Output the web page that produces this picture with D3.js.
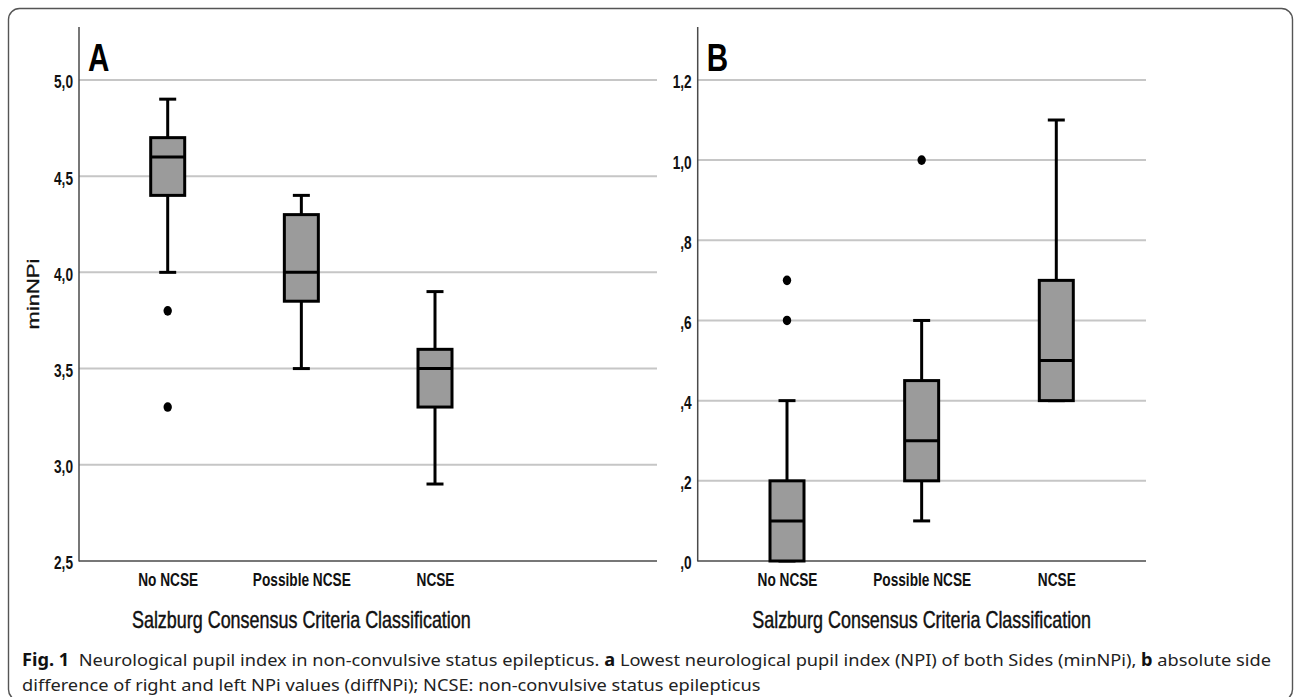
<!DOCTYPE html>
<html><head><meta charset="utf-8">
<script src="https://cdn.jsdelivr.net/npm/d3@7"></script>
<style>body{margin:0;background:#fff} svg{display:block}</style>
</head><body><svg id="c" width="1295" height="697"></svg>
<script>
// ---------- data ----------
const categories = ["No NCSE", "Possible NCSE", "NCSE"];

// Panel A: minNPi
const minNPiWhiskerLow  = [4.0, 3.5, 2.9];
const minNPiQ1          = [4.4, 3.85, 3.3];
const minNPiMedian      = [4.6, 4.0, 3.5];
const minNPiQ3          = [4.7, 4.3, 3.6];
const minNPiWhiskerHigh = [4.9, 4.4, 3.9];
const minNPiOutliers    = [[3.8, 3.3], [], []];
const minNPiTicks       = [2.5, 3.0, 3.5, 4.0, 4.5, 5.0];
const minNPiTickLabels  = ["2,5", "3,0", "3,5", "4,0", "4,5", "5,0"];

// Panel B: diffNPi
const diffNPiWhiskerLow  = [0.0, 0.1, 0.4];
const diffNPiQ1          = [0.0, 0.2, 0.4];
const diffNPiMedian      = [0.1, 0.3, 0.5];
const diffNPiQ3          = [0.2, 0.45, 0.7];
const diffNPiWhiskerHigh = [0.4, 0.6, 1.1];
const diffNPiOutliers    = [[0.7, 0.6], [1.0], []];
const diffNPiTicks       = [0.0, 0.2, 0.4, 0.6, 0.8, 1.0, 1.2];
const diffNPiTickLabels  = [",0", ",2", ",4", ",6", ",8", "1,0", "1,2"];

const xTitle = "Salzburg Consensus Criteria Classification";
const captionLine1 = [
  {t: "Fig. 1", b: true}, {t: "  Neurological pupil index in non-convulsive status epilepticus. ", b: false},
  {t: "a", b: true}, {t: " Lowest neurological pupil index (NPI) of both Sides (minNPi), ", b: false},
  {t: "b", b: true}, {t: " absolute side", b: false}
];
const captionLine2 = "difference of right and left NPi values (diffNPi); NCSE: non-convulsive status epilepticus";

// ---------- drawing ----------
const svg = d3.select("#c");
const SX = 0.76;           // horizontal compression of the figure text
const FONT = "'Liberation Sans', Arial, sans-serif";

// outer rounded frame
svg.append("rect").attr("x", 8.5).attr("y", 8.5).attr("width", 1284).attr("height", 692)
  .attr("rx", 11).attr("fill", "#fff").attr("stroke", "#555").attr("stroke-width", 1.4);

function stext(g, x, y, str, o) {
  return g.append("text")
    .attr("transform", `translate(${x},${y}) scale(${o.sx ?? SX},1)`)
    .attr("text-anchor", o.anchor || "middle")
    .attr("font-family", FONT).attr("font-size", o.size).attr("font-weight", o.weight || "normal")
    .attr("fill", o.fill || "#111").text(str);
}

function panel(cfg) {
  const g = svg.append("g");
  const y = d3.scaleLinear().domain(cfg.yDomain).range([561, 27]);
  const x = d3.scalePoint().domain(categories).range(cfg.catRange);
  const x0 = cfg.axisX, x1 = cfg.gridEnd;

  // white background (panel B covers panel A)
  if (cfg.bg) g.append("rect").attr("x", cfg.bg[0]).attr("y", 14).attr("width", cfg.bg[1] - cfg.bg[0]).attr("height", 590).attr("fill", "#fff");

  // gridlines
  g.append("g").selectAll("line").data(cfg.ticks.slice(1)).join("line")
    .attr("x1", x0).attr("x2", x1).attr("y1", d => y(d)).attr("y2", d => y(d))
    .attr("stroke", "#c6c6c6").attr("stroke-width", 2);

  // y axis labels
  const yAxis = d3.axisLeft(y).tickValues(cfg.ticks).tickSize(0).tickPadding(0)
    .tickFormat((d, i) => cfg.tickLabels[i]);
  const ya = g.append("g").attr("transform", `translate(${x0},0)`).call(yAxis);
  ya.select(".domain").remove();
  ya.selectAll("text").attr("x", null).attr("dy", "0.36em")
    .attr("transform", `translate(-6,1.5) scale(${SX},1)`)
    .attr("font-family", FONT).attr("font-size", 18).attr("font-weight", "bold").attr("fill", "#111");

  // axes lines
  g.append("line").attr("x1", x0).attr("x2", x0).attr("y1", 27).attr("y2", 561.5).attr("stroke", "#4a4a4a").attr("stroke-width", 1.5);
  g.append("line").attr("x1", x0).attr("x2", x1).attr("y1", 561).attr("y2", 561).attr("stroke", "#4a4a4a").attr("stroke-width", 1.6);

  // x axis category labels
  const xAxis = d3.axisBottom(x).tickSize(0).tickPadding(0);
  const xa = g.append("g").attr("transform", `translate(0,561)`).call(xAxis);
  xa.select(".domain").remove();
  xa.selectAll("text").attr("y", null).attr("dy", null)
    .attr("transform", `translate(0,25) scale(${SX},1)`)
    .attr("font-family", FONT).attr("font-size", 18).attr("font-weight", "bold").attr("fill", "#111");

  // boxes
  const idx = d3.range(categories.length);
  const bw = 17, cw = 8.5;
  const bx = g.append("g").attr("stroke", "#000").attr("stroke-width", 3);
  bx.selectAll("line.wh").data(idx).join("line").attr("class", "wh")
    .attr("x1", i => x(categories[i])).attr("x2", i => x(categories[i]))
    .attr("y1", i => y(cfg.wHigh[i])).attr("y2", i => y(cfg.wLow[i]));
  bx.selectAll("line.capH").data(idx).join("line").attr("class", "capH")
    .attr("x1", i => x(categories[i]) - cw).attr("x2", i => x(categories[i]) + cw)
    .attr("y1", i => y(cfg.wHigh[i])).attr("y2", i => y(cfg.wHigh[i]));
  bx.selectAll("line.capL").data(idx).join("line").attr("class", "capL")
    .attr("x1", i => x(categories[i]) - cw).attr("x2", i => x(categories[i]) + cw)
    .attr("y1", i => y(cfg.wLow[i])).attr("y2", i => y(cfg.wLow[i]));
  bx.selectAll("rect").data(idx).join("rect")
    .attr("x", i => x(categories[i]) - bw).attr("width", 2 * bw)
    .attr("y", i => y(cfg.q3[i])).attr("height", i => y(cfg.q1[i]) - y(cfg.q3[i]))
    .attr("fill", "#9b9b9b");
  bx.selectAll("line.med").data(idx).join("line").attr("class", "med")
    .attr("x1", i => x(categories[i]) - bw).attr("x2", i => x(categories[i]) + bw)
    .attr("y1", i => y(cfg.med[i])).attr("y2", i => y(cfg.med[i]));

  // outliers
  const pts = idx.flatMap(i => cfg.out[i].map(v => ({c: categories[i], v})));
  g.selectAll("ellipse").data(pts).join("ellipse")
    .attr("cx", d => x(d.c)).attr("cy", d => y(d.v)).attr("rx", 4.2).attr("ry", 4.8).attr("fill", "#000");

  // panel letter
  stext(g, x0 + 9, 71, cfg.letter, {size: 39, weight: "bold", anchor: "start", fill: "#000"});
  // x title
  stext(g, x(categories[1]), 628, xTitle, {size: 23.6, fill: "#111"})
    .attr("stroke", "#111").attr("stroke-width", 0.45);
  // y title
  if (cfg.yTitle) g.append("text")
    .attr("transform", `translate(39,294) rotate(-90) scale(1,${SX})`)
    .attr("text-anchor", "middle").attr("font-family", FONT).attr("font-size", 22)
    .attr("fill", "#111").attr("stroke", "#111").attr("stroke-width", 0.45).text(cfg.yTitle);
}

panel({
  letter: "A", yTitle: "minNPi", axisX: 79, gridEnd: 657, catRange: [167.7, 435],
  yDomain: [2.5, 5.275], ticks: minNPiTicks, tickLabels: minNPiTickLabels,
  wLow: minNPiWhiskerLow, q1: minNPiQ1, med: minNPiMedian, q3: minNPiQ3, wHigh: minNPiWhiskerHigh, out: minNPiOutliers
});
panel({
  letter: "B", axisX: 697.7, gridEnd: 1146, catRange: [787, 1056.3], bg: [657, 1180],
  yDomain: [0, 1.332], ticks: diffNPiTicks, tickLabels: diffNPiTickLabels,
  wLow: diffNPiWhiskerLow, q1: diffNPiQ1, med: diffNPiMedian, q3: diffNPiQ3, wHigh: diffNPiWhiskerHigh, out: diffNPiOutliers
});

// caption
const CF = "'Noto Sans', 'Open Sans', sans-serif";
const c1 = svg.append("text").attr("font-family", CF).attr("font-size", 17).attr("fill", "#222")
  .attr("xml:space", "preserve").style("white-space", "pre");
c1.selectAll("tspan").data(captionLine1).join("tspan")
  .attr("font-weight", d => d.b ? "bold" : "normal").attr("fill", d => d.b ? "#111" : "#222").text(d => d.t);
const c2 = svg.append("text").attr("font-family", CF).attr("font-size", 17).attr("fill", "#222").text(captionLine2);
const w1 = c1.node().getComputedTextLength();
const cs = 1250 / w1;
c1.attr("transform", `translate(22,666) scale(${cs},1)`);
c2.attr("transform", `translate(22,691) scale(${cs},1)`);
</script>
</body></html>
